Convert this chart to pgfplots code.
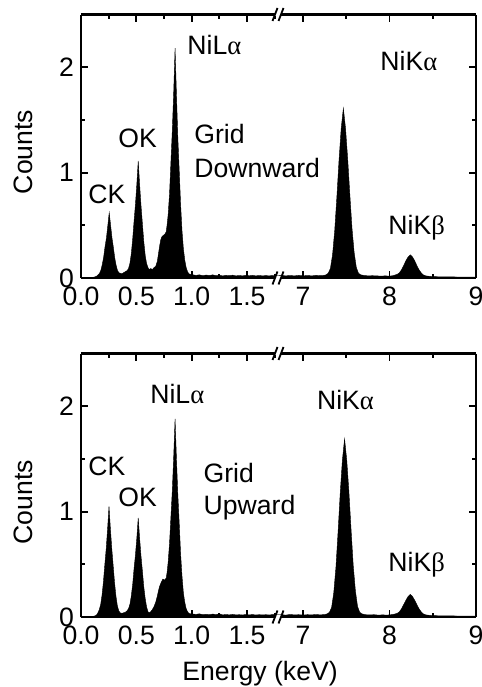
\documentclass[border=0pt]{standalone}
\usepackage{fontspec}
\setmainfont{Liberation Sans}
\newfontfamily\grk{Liberation Serif}
\usepackage{pgfplots}
\pgfplotsset{compat=1.18}

\newcommand{\lbl}{\fontsize{13.3}{16}\selectfont}

\pgfplotsset{
  eds/.style={
    scale only axis, height=131.75pt, ymin=0, ymax=2.5,
    clip mode=individual,
    axis line style={line width=1.2pt},
    major tick length=3.5pt, minor tick length=2pt,
    every tick/.style={line width=0.9pt, black},
    font=\lbl,
    /pgf/number format/assume math mode=true,
    ytick={0,1,2}, minor ytick={0.5,1.5},
    xticklabel style={yshift=-1pt},
  },
  edsL/.style={eds, width=98.5pt, xmin=0, xmax=1.78,
    axis x line*=box, axis y line*=left, tick align=inside,
    xtick={0,0.5,1,1.5}, minor xtick={0.25,0.75,1.25,1.75},
    x tick label style={/pgf/number format/fixed, /pgf/number format/fixed zerofill,
      /pgf/number format/precision=1},
  },
  edsR/.style={eds, width=99pt, xmin=6.71, xmax=9,
    axis x line*=box, axis y line*=right, tick align=inside,
    xtick={7,8,9}, minor xtick={7.5,8.5}, yticklabels={},
  },
  spec/.style={fill=black, draw=black, line width=0.2pt},
}

\newcommand{\brk}[2]{%
  \fill[white] (#1-1.6pt,#2-1pt) rectangle (#1+1.6pt,#2+1pt);
  \draw[line width=0.9pt] (#1-2.75pt,#2-3.25pt) -- (#1-0.25pt,#2+3.25pt);
  \draw[line width=0.9pt] (#1+0.25pt,#2-3.25pt) -- (#1+2.75pt,#2+3.25pt);}

\begin{document}
\begin{tikzpicture}
% ---------------- top panel: grid downward ----------------
\begin{axis}[edsL, at={(0pt,169.5pt)},
  ylabel={Counts}, ylabel style={at={(axis description cs:-0.294,0.478)}, anchor=center}]
\addplot[spec] coordinates {
 (0.00,0.000)(0.03,0.002)(0.06,0.001)(0.09,0.004)(0.11,0.006)(0.13,0.012)(0.145,0.02)
 (0.155,0.03)(0.1675,0.045)(0.18,0.075)(0.1925,0.13)(0.205,0.20)(0.2175,0.30)(0.23,0.38)
 (0.2425,0.50)(0.255,0.62)(0.2675,0.50)(0.28,0.38)(0.2925,0.29)(0.305,0.19)(0.3175,0.12)
 (0.33,0.07)(0.3425,0.05)(0.355,0.045)(0.37,0.04)(0.385,0.05)(0.40,0.06)(0.417,0.07)
 (0.4295,0.09)(0.442,0.14)(0.4545,0.23)(0.467,0.37)(0.4795,0.54)(0.492,0.70)(0.5045,0.89)
 (0.517,1.11)(0.5295,0.89)(0.542,0.69)(0.5545,0.52)(0.567,0.35)(0.5795,0.22)(0.592,0.14)
 (0.6045,0.10)(0.617,0.08)(0.63,0.09)(0.645,0.08)(0.66,0.10)(0.675,0.11)(0.69,0.16)
 (0.70,0.23)(0.71,0.30)(0.72,0.36)(0.73,0.39)(0.74,0.40)(0.75,0.41)(0.76,0.42)(0.77,0.44)
 (0.7775,0.50)(0.7875,0.60)(0.80,0.80)(0.8125,1.10)(0.825,1.40)(0.8375,1.76)(0.85,2.18)
 (0.8625,1.74)(0.875,1.33)(0.8875,1.02)(0.90,0.70)(0.9125,0.45)(0.925,0.28)(0.9375,0.17)
 (0.95,0.10)(0.9625,0.06)(0.975,0.04)(0.99,0.035)(1.01,0.03)(1.04,0.025)(1.07,0.03)
 (1.10,0.022)(1.13,0.028)(1.16,0.024)(1.19,0.03)(1.22,0.022)(1.25,0.026)(1.28,0.02)
 (1.31,0.025)(1.34,0.022)(1.37,0.027)(1.40,0.02)(1.43,0.024)(1.46,0.02)(1.49,0.026)
 (1.52,0.021)(1.55,0.025)(1.58,0.02)(1.61,0.024)(1.64,0.02)(1.67,0.023)(1.70,0.02)
 (1.73,0.024)(1.78,0.02)
} \closedcycle;
\node[font=\lbl, anchor=base west, inner sep=0] at (axis cs:0.958,2.12) {NiL{\grk α}};
\node[font=\lbl, anchor=base west, inner sep=0] at (axis cs:0.334,1.24) {OK};
\node[font=\lbl, anchor=base west, inner sep=0] at (axis cs:0.063,0.71) {CK};
\node[font=\lbl, anchor=base west, inner sep=0] at (axis cs:1.021,1.28) {Grid};
\node[font=\lbl, anchor=base west, inner sep=0] at (axis cs:1.021,0.957) {Downward};
\end{axis}
\begin{axis}[edsR, at={(98.5pt,169.5pt)}]
\addplot[spec] coordinates {
 (6.71,0.02)(6.75,0.025)(6.80,0.02)(6.85,0.024)(6.90,0.02)(6.95,0.025)(7.00,0.02)
 (7.05,0.024)(7.10,0.02)(7.15,0.025)(7.20,0.022)(7.24,0.025)(7.266,0.03)(7.291,0.045)
 (7.316,0.09)(7.341,0.22)(7.366,0.45)(7.391,0.77)(7.416,1.12)(7.441,1.42)(7.466,1.61)
 (7.491,1.42)(7.516,1.13)(7.541,0.79)(7.566,0.47)(7.591,0.24)(7.616,0.10)(7.641,0.045)
 (7.666,0.03)(7.70,0.025)(7.75,0.02)(7.80,0.022)(7.85,0.02)(7.90,0.018)(7.95,0.02)
 (8.00,0.018)(8.04,0.022)(8.07,0.03)(8.09,0.035)(8.115,0.05)(8.14,0.08)(8.165,0.12)
 (8.19,0.165)(8.215,0.20)(8.24,0.22)(8.265,0.20)(8.29,0.165)(8.315,0.12)(8.34,0.08)
 (8.365,0.05)(8.39,0.03)(8.42,0.02)(8.47,0.015)(8.55,0.012)(8.65,0.01)(8.75,0.01)
 (8.85,0.008)(9.00,0.008)
} \closedcycle;
\node[font=\lbl, anchor=base west, inner sep=0] at (axis cs:7.89,1.97) {NiK{\grk α}};
\node[font=\lbl, anchor=base west, inner sep=0] at (axis cs:7.983,0.41) {NiK{\grk β}};
\end{axis}
% ---------------- bottom panel: grid upward ----------------
\begin{axis}[edsL, at={(0pt,0pt)},
  ylabel={Counts}, ylabel style={at={(axis description cs:-0.294,0.435)}, anchor=center},
  xlabel={Energy (keV)}, xlabel style={at={(axis description cs:0.909,0)}, anchor=base, yshift=-31.5pt}]
\addplot[spec] coordinates {
 (0.00,0.000)(0.03,0.001)(0.06,0.002)(0.09,0.004)(0.11,0.006)(0.13,0.012)(0.145,0.025)
 (0.153,0.04)(0.1655,0.07)(0.178,0.12)(0.1905,0.21)(0.203,0.34)(0.2155,0.50)(0.228,0.65)
 (0.2405,0.84)(0.253,1.05)(0.2655,0.84)(0.278,0.65)(0.2905,0.49)(0.303,0.33)(0.3155,0.20)
 (0.328,0.11)(0.3405,0.06)(0.353,0.04)(0.37,0.035)(0.385,0.04)(0.40,0.045)(0.417,0.06)
 (0.4295,0.08)(0.442,0.12)(0.4545,0.20)(0.467,0.31)(0.4795,0.46)(0.492,0.59)(0.5045,0.75)
 (0.517,0.94)(0.5295,0.75)(0.542,0.58)(0.5545,0.44)(0.567,0.29)(0.5795,0.18)(0.592,0.10)
 (0.6045,0.05)(0.617,0.04)(0.63,0.05)(0.645,0.07)(0.66,0.10)(0.675,0.14)(0.69,0.20)
 (0.70,0.25)(0.71,0.29)(0.725,0.33)(0.74,0.36)(0.755,0.35)(0.77,0.37)(0.7775,0.42)
 (0.7875,0.52)(0.80,0.70)(0.8125,0.95)(0.825,1.20)(0.8375,1.52)(0.85,1.88)(0.8625,1.50)
 (0.875,1.16)(0.8875,0.89)(0.90,0.60)(0.9125,0.39)(0.925,0.23)(0.9375,0.14)(0.95,0.08)
 (0.9625,0.05)(0.975,0.035)(0.99,0.03)(1.01,0.028)(1.04,0.025)(1.07,0.03)(1.10,0.022)
 (1.13,0.026)(1.16,0.022)(1.19,0.028)(1.22,0.022)(1.25,0.03)(1.28,0.02)(1.31,0.024)
 (1.34,0.02)(1.37,0.025)(1.40,0.02)(1.43,0.022)(1.46,0.019)(1.49,0.024)(1.52,0.02)
 (1.55,0.023)(1.58,0.019)(1.61,0.022)(1.64,0.02)(1.67,0.022)(1.70,0.019)(1.73,0.023)
 (1.78,0.02)
} \closedcycle;
\node[font=\lbl, anchor=base west, inner sep=0] at (axis cs:0.623,2.03) {NiL{\grk α}};
\node[font=\lbl, anchor=base west, inner sep=0] at (axis cs:0.063,1.34) {CK};
\node[font=\lbl, anchor=base west, inner sep=0] at (axis cs:0.334,1.05) {OK};
\node[font=\lbl, anchor=base west, inner sep=0] at (axis cs:1.105,1.28) {Grid};
\node[font=\lbl, anchor=base west, inner sep=0] at (axis cs:1.105,0.97) {Upward};
\end{axis}
\begin{axis}[edsR, at={(98.5pt,0pt)}]
\addplot[spec] coordinates {
 (6.71,0.02)(6.75,0.022)(6.80,0.018)(6.85,0.024)(6.90,0.02)(6.95,0.022)(7.00,0.018)
 (7.05,0.022)(7.10,0.02)(7.15,0.024)(7.20,0.02)(7.25,0.024)(7.28,0.03)(7.305,0.045)
 (7.33,0.09)(7.355,0.23)(7.38,0.47)(7.405,0.81)(7.43,1.18)(7.455,1.49)(7.48,1.69)
 (7.505,1.49)(7.53,1.19)(7.555,0.83)(7.58,0.49)(7.605,0.25)(7.63,0.10)(7.655,0.045)
 (7.68,0.03)(7.72,0.022)(7.77,0.02)(7.82,0.022)(7.87,0.018)(7.92,0.02)(7.97,0.018)
 (8.02,0.022)(8.06,0.028)(8.09,0.035)(8.115,0.05)(8.14,0.08)(8.165,0.12)(8.19,0.16)
 (8.215,0.195)(8.24,0.215)(8.265,0.195)(8.29,0.16)(8.315,0.12)(8.34,0.08)(8.365,0.05)
 (8.39,0.03)(8.42,0.02)(8.47,0.015)(8.55,0.012)(8.65,0.01)(8.75,0.01)(8.85,0.008)
 (9.00,0.008)
} \closedcycle;
\node[font=\lbl, anchor=base west, inner sep=0] at (axis cs:7.158,1.97) {NiK{\grk α}};
\node[font=\lbl, anchor=base west, inner sep=0] at (axis cs:7.983,0.43) {NiK{\grk β}};
\end{axis}
% axis breaks
\brk{98.5pt}{0pt}
\brk{98.5pt}{131.75pt}
\brk{98.5pt}{169.5pt}
\brk{98.5pt}{301.25pt}
\pgfresetboundingbox
\useasboundingbox (-40.5pt,-35pt) rectangle (200.5pt,308.5pt);
\end{tikzpicture}
\end{document}
